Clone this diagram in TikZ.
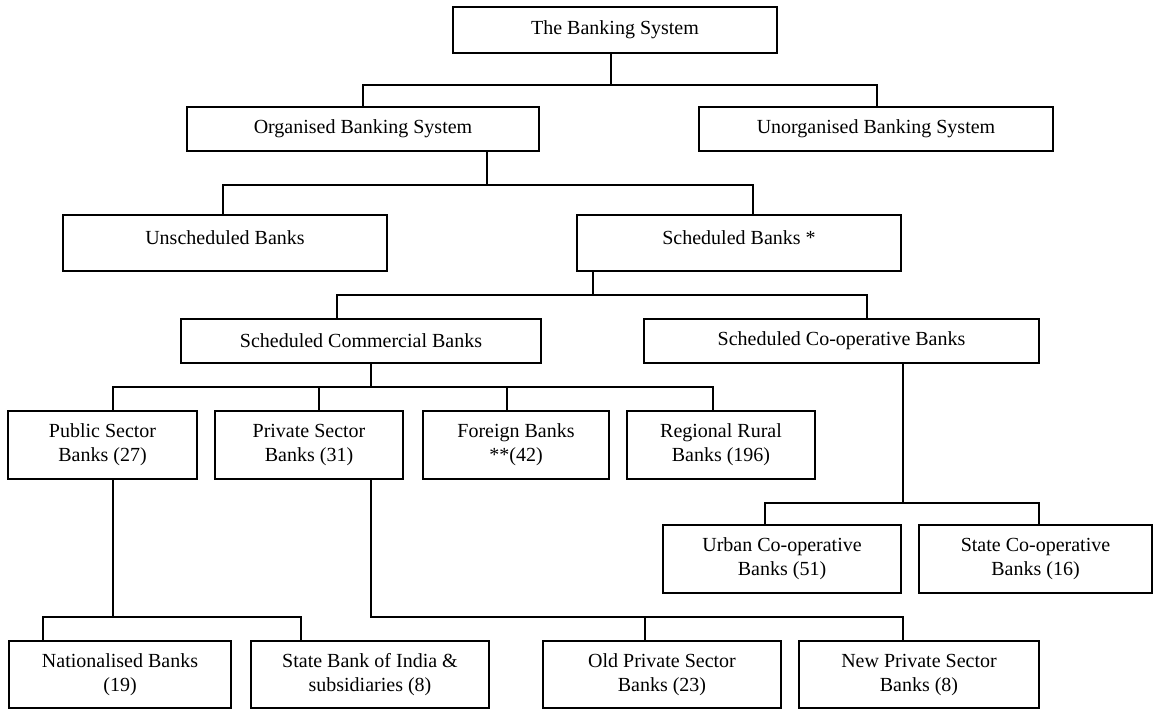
\documentclass[tikz,border=0pt]{standalone}
\usepackage{fontspec}
\setmainfont{Liberation Serif}
\begin{document}
\begin{tikzpicture}[x=1pt,y=-1pt,
  box/.style={draw,line width=2.2pt,inner sep=0pt,align=center,
    font=\fontsize{20}{24}\selectfont},
  link/.style={line width=2.2pt}]
\useasboundingbox (0,0) rectangle (1153,709);
% nodes
\node[box,minimum width=324pt,minimum height=46pt] (bank) at (615,30) {The Banking System};
\node[box,minimum width=352pt,minimum height=44pt] (org) at (363,129) {Organised Banking System};
\node[box,minimum width=354pt,minimum height=44pt] (unorg) at (876,129) {Unorganised Banking System};
\node[box,minimum width=324pt,minimum height=56pt,text depth=10pt] (unsch) at (225,243) {Unscheduled Banks};
\node[box,minimum width=324pt,minimum height=56pt,text depth=10pt] (sch) at (739,243) {Scheduled Banks *};
\node[box,minimum width=360pt,minimum height=44pt] (comm) at (361,341) {Scheduled Commercial Banks};
\node[box,minimum width=395pt,minimum height=44pt] (coop) at (841.5,341) {Scheduled Co-operative Banks};
\node[box,minimum width=189pt,minimum height=68pt] (pub) at (102.5,445) {Public Sector\\Banks (27)};
\node[box,minimum width=188pt,minimum height=68pt] (priv) at (309,445) {Private Sector\\Banks (31)};
\node[box,minimum width=186pt,minimum height=68pt] (forb) at (516,445) {Foreign Banks\\**(42)};
\node[box,minimum width=188pt,minimum height=68pt] (reg) at (721,445) {Regional Rural\\Banks (196)};
\node[box,minimum width=238pt,minimum height=68pt] (urban) at (782,559) {Urban Co-operative\\Banks (51)};
\node[box,minimum width=233pt,minimum height=68pt] (state) at (1035.5,559) {State Co-operative\\Banks (16)};
\node[box,minimum width=222pt,minimum height=67pt] (nat) at (120,674.5) {Nationalised Banks\\(19)};
\node[box,minimum width=238pt,minimum height=67pt] (sbi) at (370,674.5) {State Bank of India \&\\subsidiaries (8)};
\node[box,minimum width=238pt,minimum height=67pt] (old) at (662,674.5) {Old Private Sector\\Banks (23)};
\node[box,minimum width=240pt,minimum height=67pt] (new) at (919,674.5) {New Private Sector\\Banks (8)};
% bus coordinates
\coordinate (b1) at (611,85);
\coordinate (b1l) at (363,85);
\coordinate (b1r) at (877,85);
\coordinate (b2) at (487,185);
\coordinate (b2l) at (223,185);
\coordinate (b2r) at (753,185);
\coordinate (b3) at (593,295);
\coordinate (b3l) at (337,295);
\coordinate (b3r) at (867,295);
\coordinate (b4) at (371,387);
\coordinate (b4a) at (113,387);
\coordinate (b4b) at (319,387);
\coordinate (b4c) at (507,387);
\coordinate (b4d) at (713,387);
\coordinate (b5) at (113,617);
\coordinate (b5l) at (43,617);
\coordinate (b5r) at (301,617);
\coordinate (b6) at (371,617);
\coordinate (b6l) at (645,617);
\coordinate (b6r) at (903,617);
\coordinate (b7) at (903,503);
\coordinate (b7l) at (765,503);
\coordinate (b7r) at (1039,503);
% connectors
\draw[link] (bank.south -| b1) -- (b1);
\draw[link] (org.north -| b1l) -- (b1l) -- (b1r) -- (unorg.north -| b1r);
\draw[link] (org.south -| b2) -- (b2);
\draw[link] (unsch.north -| b2l) -- (b2l) -- (b2r) -- (sch.north -| b2r);
\draw[link] (sch.south -| b3) -- (b3);
\draw[link] (comm.north -| b3l) -- (b3l) -- (b3r) -- (coop.north -| b3r);
\draw[link] (comm.south -| b4) -- (b4);
\draw[link] (pub.north -| b4a) -- (b4a) -- (b4d) -- (reg.north -| b4d);
\draw[link] (b4b) -- (priv.north -| b4b);
\draw[link] (b4c) -- (forb.north -| b4c);
\draw[link] (pub.south -| b5) -- (b5);
\draw[link] (nat.north -| b5l) -- (b5l) -- (b5r) -- (sbi.north -| b5r);
\draw[link] (priv.south -| b6) -- (b6) -- (b6r) -- (new.north -| b6r);
\draw[link] (b6l) -- (old.north -| b6l);
\draw[link] (coop.south -| b7) -- (b7);
\draw[link] (urban.north -| b7l) -- (b7l) -- (b7r) -- (state.north -| b7r);
\end{tikzpicture}
\end{document}
